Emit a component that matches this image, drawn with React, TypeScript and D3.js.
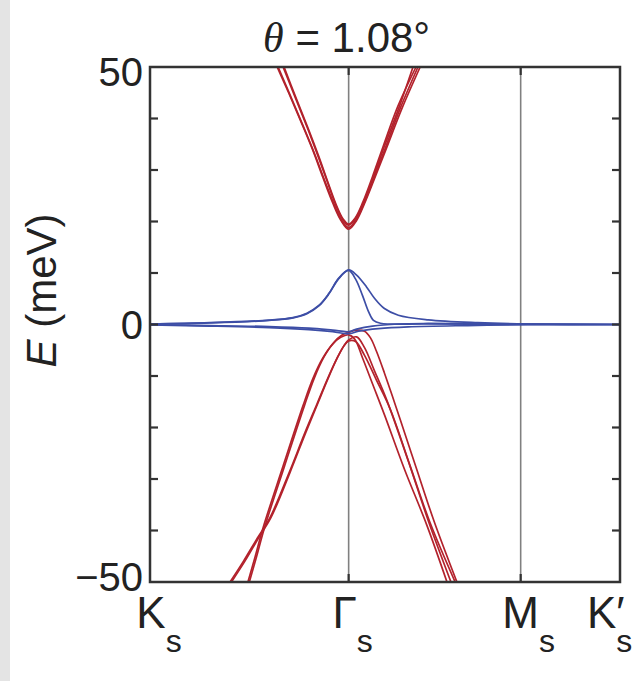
import React, { useRef, useEffect } from "react";
import * as d3 from "d3";

// k-path positions (in units of |Γ-K|)
const kPoints = [0, 1, 1.866, 2.366];
const kLabels = ["K", "Γ", "M", "K"];
const yTickValues = [-50, -40, -30, -20, -10, 0, 10, 20, 30, 40, 50];
const yTickLabels = [50, 0, -50];

// remote conduction bands [k, E(meV)]
const condA = [[0.64, 50], [0.7, 44.8], [0.76, 39.4], [0.82, 33.8], [0.87, 28.6], [0.92, 23.6], [0.96, 20.3], [1.0, 18.5], [1.04, 20.2], [1.08, 23.5], [1.13, 28.3], [1.19, 34.2], [1.27, 42.1], [1.36, 50]];
const condB = [[0.67, 50], [0.73, 44.2], [0.79, 38.4], [0.845, 32.8], [0.89, 28], [0.935, 23.2], [0.97, 20.4], [1.0, 19.3], [1.035, 20.6], [1.075, 23.7], [1.125, 28.6], [1.18, 34.6], [1.255, 42.3], [1.324, 50]];
const condC = [[0.645, 50], [0.705, 44.6], [0.765, 39.1], [0.825, 33.5], [0.875, 28.4], [0.925, 23.5], [0.962, 20.4], [1.0, 18.8], [1.038, 20.4], [1.078, 23.6], [1.128, 28.5], [1.186, 34.4], [1.262, 42.2], [1.349, 50]];
const condD = [[0.675, 50], [0.735, 44], [0.795, 38.2], [0.85, 32.6], [0.893, 27.9], [0.938, 23.2], [0.972, 20.5], [1.0, 19.5], [1.033, 20.7], [1.072, 23.8], [1.12, 28.7], [1.175, 34.7], [1.248, 42.4], [1.339, 50]];

// flat bands
const flatA = [[0, 0.1], [0.3, 0.3], [0.6, 0.8], [0.72, 1.3], [0.79, 2.1], [0.85, 3.6], [0.9, 5.9], [0.95, 8.9], [1.0, 10.6], [1.04, 9.6], [1.09, 7.3], [1.13, 5.1], [1.18, 3.1], [1.25, 1.8], [1.4, 0.9], [1.65, 0.35], [1.9, 0.1], [2.366, 0]];
const flatB = [[0, 0.1], [0.3, 0.35], [0.6, 0.85], [0.72, 1.35], [0.79, 2.2], [0.85, 3.7], [0.9, 6], [0.95, 9], [1.0, 10.5], [1.035, 8.8], [1.07, 5.6], [1.1, 2.5], [1.125, 0.8], [1.16, 0.25], [1.4, 0.1], [2.366, 0]];
const flatC = [[0, -0.1], [0.3, -0.3], [0.6, -0.6], [0.8, -1.0], [0.92, -1.4], [1.0, -1.8], [1.05, -1.3], [1.15, -0.8], [1.3, -0.45], [1.6, -0.2], [1.9, -0.05], [2.366, 0]];
const flatD = [[0, -0.05], [0.3, -0.2], [0.6, -0.4], [0.8, -0.7], [0.92, -1.1], [1.0, -1.4], [1.04, -0.9], [1.12, -0.3], [1.25, 0.1], [1.4, 0.2], [1.7, 0.15], [2.366, 0]];

// remote valence bands
const valA = [[0.493, -50], [0.53, -45], [0.569, -39.5], [0.67, -27.5], [0.77, -15.8], [0.82, -10.5], [0.87, -6.5], [0.92, -3.8], [0.96, -2.5], [1.0, -2.0], [1.03, -2.8], [1.07, -6.5], [1.12, -11.5], [1.18, -17.5], [1.28, -28], [1.393, -38.9], [1.495, -50]];
const valB = [[0.403, -50], [0.47, -46], [0.54, -41.5], [0.604, -37.5], [0.7, -28.8], [0.78, -21], [0.841, -15.4], [0.891, -10.8], [0.941, -6.6], [0.975, -4.2], [1.0, -3.2], [1.035, -3.3], [1.08, -6], [1.14, -10.8], [1.21, -16.5], [1.31, -27.5], [1.41, -38.5], [1.536, -50]];
const valC = [[0.5, -50], [0.537, -45], [0.576, -39.5], [0.677, -27.5], [0.777, -15.8], [0.827, -10.4], [0.876, -6.3], [0.925, -3.5], [0.965, -2.1], [1.0, -1.5], [1.04, -1.1], [1.08, -1.3], [1.11, -2.6], [1.14, -5.2], [1.18, -9.4], [1.22, -13.9], [1.26, -18.5], [1.34, -27.8], [1.43, -38.2], [1.545, -50]];
const valD = [[0.41, -50], [0.477, -46], [0.547, -41.4], [0.61, -37.4], [0.705, -28.7], [0.785, -20.9], [0.846, -15.2], [0.895, -10.6], [0.944, -6.4], [0.977, -4.1], [1.0, -3.0], [1.04, -2.4], [1.08, -4.5], [1.13, -9], [1.19, -14.5], [1.3, -26.5], [1.4, -38], [1.515, -50]];

const RED = "#b3222c";
const BLUE = "#3d4ea6";

const BandStructure = () => {
  const svgRef = useRef(null);

  useEffect(() => {
    const svg = d3.select(svgRef.current);
    svg.selectAll("*").remove();

    const width = 641;
    const height = 681;
    const margin = { top: 67, right: 21, bottom: 99, left: 150 };

    const x = d3
      .scaleLinear()
      .domain([0, kPoints[3]])
      .range([margin.left, width - margin.right]);
    const y = d3
      .scaleLinear()
      .domain([-50, 50])
      .range([height - margin.bottom, margin.top]);

    // slide background strip on the left
    svg.append("rect").attr("x", 0).attr("y", 0).attr("width", 10).attr("height", height).attr("fill", "#e4e4e4");

    // vertical guides at Γ and M
    [kPoints[1], kPoints[2]].forEach((k) => {
      svg
        .append("line")
        .attr("x1", x(k))
        .attr("x2", x(k))
        .attr("y1", y(50))
        .attr("y2", y(-50))
        .attr("stroke", "#808080")
        .attr("stroke-width", 1.6);
    });

    const line = d3
      .line()
      .curve(d3.curveCatmullRom.alpha(0.5))
      .x((d) => x(d[0]))
      .y((d) => y(d[1]));

    const g = svg.append("g");
    [condA, condB, condC, condD, valA, valB, valC, valD].forEach((band) => {
      g.append("path").datum(band).attr("fill", "none").attr("stroke", RED).attr("stroke-width", 1.7).attr("d", line);
    });
    [flatA, flatB, flatC, flatD].forEach((band) => {
      g.append("path").datum(band).attr("fill", "none").attr("stroke", BLUE).attr("stroke-width", 1.7).attr("d", line);
    });

    // frame
    svg
      .append("rect")
      .attr("x", x(0))
      .attr("y", y(50))
      .attr("width", x(kPoints[3]) - x(0))
      .attr("height", y(-50) - y(50))
      .attr("fill", "none")
      .attr("stroke", "#333")
      .attr("stroke-width", 2.5);

    // inward ticks
    const tickLen = 8;
    yTickValues.slice(1, -1).forEach((v) => {
      svg.append("line").attr("x1", x(0)).attr("x2", x(0) + tickLen).attr("y1", y(v)).attr("y2", y(v)).attr("stroke", "#333").attr("stroke-width", 2.2);
      svg.append("line").attr("x1", x(kPoints[3])).attr("x2", x(kPoints[3]) - tickLen).attr("y1", y(v)).attr("y2", y(v)).attr("stroke", "#333").attr("stroke-width", 2.2);
    });
    [kPoints[1], kPoints[2]].forEach((k) => {
      svg.append("line").attr("x1", x(k)).attr("x2", x(k)).attr("y1", y(50)).attr("y2", y(50) + tickLen).attr("stroke", "#333").attr("stroke-width", 2.2);
      svg.append("line").attr("x1", x(k)).attr("x2", x(k)).attr("y1", y(-50)).attr("y2", y(-50) - tickLen).attr("stroke", "#333").attr("stroke-width", 2.2);
    });

    const font = "'Liberation Sans', Arial, sans-serif";

    // y tick labels
    const labelShift = { 50: 5, 0: 0, "-50": -5 };
    yTickLabels.forEach((v) => {
      svg
        .append("text")
        .attr("x", x(0) - 7)
        .attr("y", y(v) + labelShift[v])
        .attr("dy", "0.36em")
        .attr("text-anchor", "end")
        .attr("font-family", font)
        .attr("font-size", 40)
        .attr("fill", "#222")
        .text(v < 0 ? `\u2212${Math.abs(v)}` : `${v}`);
    });

    // y axis title
    const yt = svg
      .append("text")
      .attr("transform", `translate(56,${y(0) - 34}) rotate(-90)`)
      .attr("text-anchor", "middle")
      .attr("font-family", font)
      .attr("font-size", 42)
      .attr("fill", "#222");
    yt.append("tspan").attr("font-style", "italic").text("E");
    yt.append("tspan").text(" (meV)");

    // title
    const tt = svg
      .append("text")
      .attr("x", x(kPoints[1]) - 2)
      .attr("y", 52)
      .attr("text-anchor", "middle")
      .attr("font-family", font)
      .attr("font-size", 42)
      .attr("fill", "#222");
    tt.append("tspan").attr("font-family", "'Liberation Serif', serif").attr("font-style", "italic").text("θ");
    tt.append("tspan").text(" = 1.08°");

    // x labels with subscript s
    const labelOffsets = [9, 4, 8, 0];
    kLabels.forEach((lab, i) => {
      const t = svg
        .append("text")
        .attr("x", i === 3 ? 587 : x(kPoints[i]) + labelOffsets[i])
        .attr("y", 628)
        .attr("text-anchor", i === 3 ? "start" : "middle")
        .attr("font-family", font)
        .attr("font-size", 44)
        .attr("fill", "#222");
      t.append("tspan").text(lab);
      t.append("tspan").attr("font-size", 32).attr("dy", 24).text("s");
      if (i === 3) t.append("tspan").attr("dy", -24).attr("dx", -16).text("′");
    });
  }, []);

  return <svg ref={svgRef} width="641" height="681" style={{ position: "absolute", left: 0, top: 0, background: "#fff" }} />;
};

export default function App() {
  return <BandStructure />;
}
